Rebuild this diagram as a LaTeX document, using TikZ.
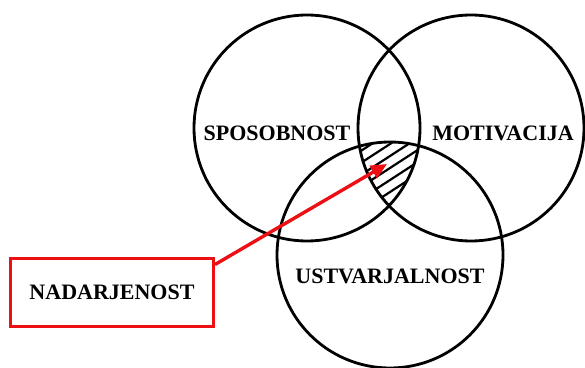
\documentclass[tikz,border=0pt]{standalone}
\usepackage{fontspec}
\setmainfont{Liberation Serif}
\usetikzlibrary{arrows.meta, positioning, calc}
\definecolor{talentRed}{RGB}{236,16,20}

\begin{document}
\begin{tikzpicture}[x=1pt, y=1pt,
    ring/.style={draw=black, line width=2.8pt},
    label/.style={font=\fontsize{22}{26}\selectfont\bfseries, text=black},
    hatch/.style={draw=black, line width=2.2pt},
    callout/.style={draw=talentRed, line width=3pt, minimum width=203pt, minimum height=68pt,
      font=\fontsize{22}{26}\selectfont\bfseries, text=black},
    pointer/.style={draw=talentRed, line width=3.4pt, -{Triangle[length=16pt, width=14pt]}}
  ]
  \useasboundingbox (0,0) rectangle (585,367);
  \coordinate (ability) at (307,239);
  \coordinate (drive) at (471,239);
  \coordinate (creative) at (390,112);

  % hatched core where all three overlap
  \begin{scope}
    \clip (ability) circle (113);
    \clip (drive) circle (113);
    \clip (creative) circle (113);
    \foreach \k in {-120,-108,...,120}
      \draw[hatch] ($(creative)+(-60,\k)$) -- ($(creative)+(60,\k+78)$);
  \end{scope}

  \draw[ring] (ability) circle (113);
  \draw[ring] (drive) circle (113);
  \draw[ring] (creative) circle (113);

  \node[label] (abilityLabel) at (277,234) {SPOSOBNOST};
  \node[label] (driveLabel) at (503,234) {MOTIVACIJA};
  \node[label] (creativeLabel) at (390,91) {USTVARJALNOST};

  \coordinate (core) at (387,203);
  \node[callout] (talent) at (112,75) {NADARJENOST};
  \draw[pointer] ([yshift=-8pt]talent.north east) -- (core);
\end{tikzpicture}
\end{document}
